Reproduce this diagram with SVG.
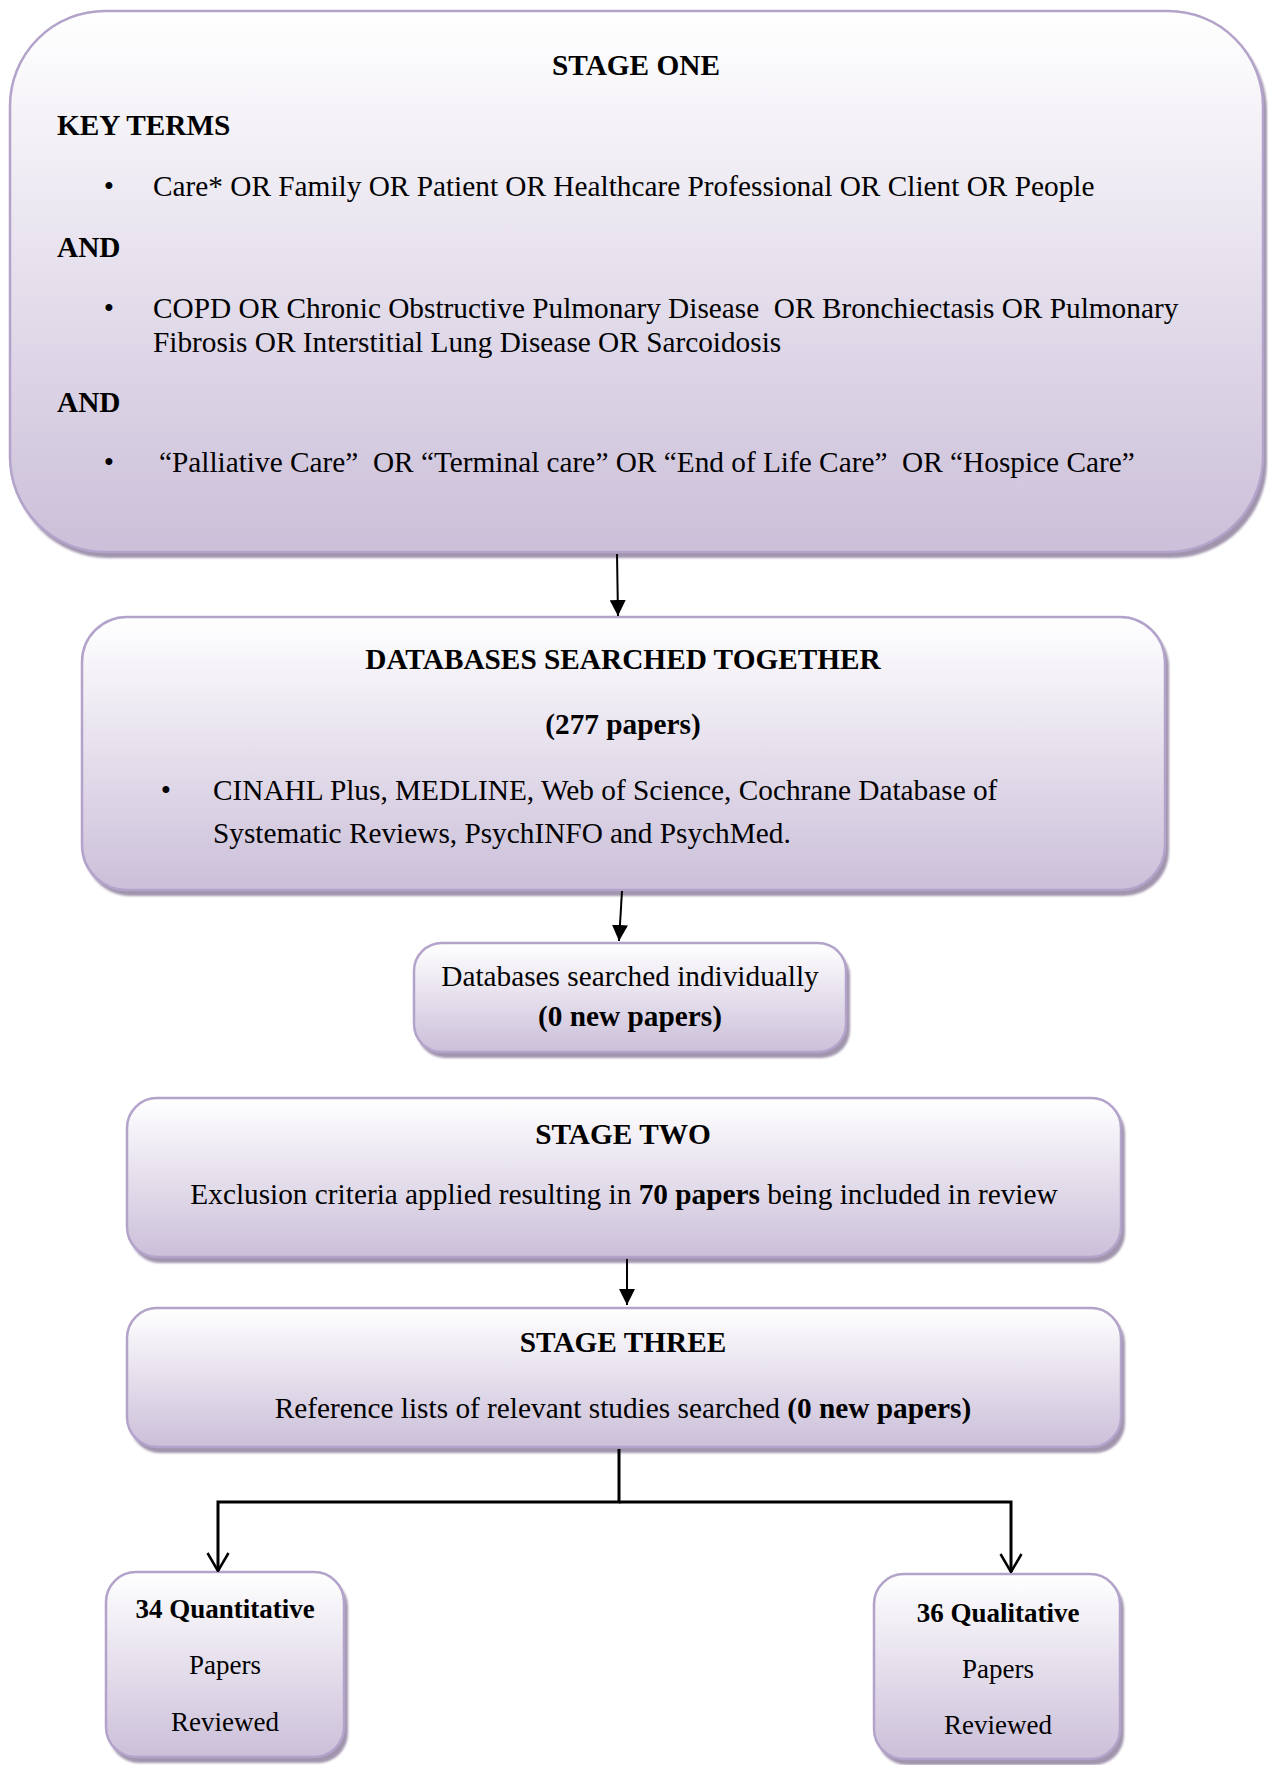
<svg xmlns="http://www.w3.org/2000/svg" width="1268" height="1765" viewBox="0 0 1268 1765">
<defs>
<linearGradient id="fillGrad" x1="0" y1="0" x2="0" y2="1">
<stop offset="0" stop-color="#ffffff"/>
<stop offset="1" stop-color="#cbbfd9"/>
</linearGradient>
<filter id="soft" x="-5%" y="-5%" width="110%" height="110%">
<feGaussianBlur stdDeviation="1.2"/>
</filter>
<marker id="solidHead" viewBox="0 0 16 16" markerWidth="16" markerHeight="16" refX="16" refY="8" orient="auto" markerUnits="userSpaceOnUse">
<path d="M0,0 L16,8 L0,16 Z" fill="#000"/>
</marker>
<marker id="openHead" viewBox="0 0 20 24" markerWidth="20" markerHeight="24" refX="19" refY="12" orient="auto" markerUnits="userSpaceOnUse">
<path d="M1,1.5 L19,12 L1,22.5" fill="none" stroke="#000" stroke-width="2.5"/>
</marker>
</defs>
<style>
.shadow{fill:#a195ae;filter:url(#soft);}
.box{fill:url(#fillGrad);stroke:#b3a3cb;stroke-width:2.5;}
.t{font-family:"Liberation Serif","Times New Roman",serif;font-size:29.3px;fill:#000;}
.ts{font-family:"Liberation Serif","Times New Roman",serif;font-size:27px;fill:#000;}
.b{font-weight:bold;}
.c{text-anchor:middle;}
.conn{stroke:#000;stroke-width:2;fill:none;}
.conn2{stroke:#000;stroke-width:3;fill:none;}
</style>
<rect width="1268" height="1765" fill="#ffffff"/>

<g id="stage-one">
<rect class="shadow" x="13" y="16" width="1254" height="542" rx="95" ry="95"/>
<rect class="box" x="10" y="11" width="1253" height="541" rx="95" ry="95"/>
<text class="t b c" x="636" y="75">STAGE ONE</text>
<text class="t b" x="57" y="135">KEY TERMS</text>
<text class="t c" x="109" y="196">•</text>
<text class="t" x="153" y="196">Care* OR Family OR Patient OR Healthcare Professional OR Client OR People</text>
<text class="t b" x="57" y="257">AND</text>
<text class="t c" x="109" y="318">•</text>
<text class="t" x="153" y="318" xml:space="preserve">COPD OR Chronic Obstructive Pulmonary Disease  OR Bronchiectasis OR Pulmonary</text>
<text class="t" x="153" y="352">Fibrosis OR Interstitial Lung Disease OR Sarcoidosis</text>
<text class="t b" x="57" y="412">AND</text>
<text class="t c" x="109" y="472">•</text>
<text class="t" x="159" y="472" xml:space="preserve">“Palliative Care”  OR “Terminal care” OR “End of Life Care”  OR “Hospice Care”</text>
</g>

<g id="databases-together">
<rect class="shadow" x="85" y="622" width="1084" height="274" rx="45" ry="45"/>
<rect class="box" x="82" y="617" width="1083" height="273" rx="45" ry="45"/>
<text class="t b c" x="623" y="669">DATABASES SEARCHED TOGETHER</text>
<text class="t b c" x="623" y="734">(277 papers)</text>
<text class="t c" x="166" y="800">•</text>
<text class="t" x="213" y="800">CINAHL Plus, MEDLINE, Web of Science, Cochrane Database of</text>
<text class="t" x="213" y="843">Systematic Reviews, PsychINFO and PsychMed.</text>
</g>

<g id="databases-individually">
<rect class="shadow" x="417" y="948" width="433" height="110" rx="28" ry="28"/>
<rect class="box" x="414" y="943" width="432" height="109" rx="28" ry="28"/>
<text class="t c" x="630" y="986">Databases searched individually</text>
<text class="t b c" x="630" y="1026">(0 new papers)</text>
</g>

<g id="stage-two">
<rect class="shadow" x="130" y="1103" width="995" height="160" rx="30" ry="30"/>
<rect class="box" x="127" y="1098" width="994" height="159" rx="30" ry="30"/>
<text class="t b c" x="623" y="1144">STAGE TWO</text>
<text class="t c" x="624" y="1204">Exclusion criteria applied resulting in <tspan class="b">70 papers</tspan> being included in review</text>
</g>

<g id="stage-three">
<rect class="shadow" x="130" y="1313" width="995" height="140" rx="30" ry="30"/>
<rect class="box" x="127" y="1308" width="994" height="139" rx="30" ry="30"/>
<text class="t b c" x="623" y="1352">STAGE THREE</text>
<text class="t c" x="623" y="1418">Reference lists of relevant studies searched <tspan class="b">(0 new papers)</tspan></text>
</g>

<g id="quantitative">
<rect class="shadow" x="109" y="1577" width="239" height="186" rx="30" ry="30"/>
<rect class="box" x="106" y="1572" width="238" height="185" rx="30" ry="30"/>
<text class="ts b c" x="225" y="1618">34 Quantitative</text>
<text class="ts c" x="225" y="1674">Papers</text>
<text class="ts c" x="225" y="1731">Reviewed</text>
</g>

<g id="qualitative">
<rect class="shadow" x="877" y="1579" width="247" height="186" rx="30" ry="30"/>
<rect class="box" x="874" y="1574" width="246" height="185" rx="30" ry="30"/>
<text class="ts b c" x="998" y="1622">36 Qualitative</text>
<text class="ts c" x="998" y="1678">Papers</text>
<text class="ts c" x="998" y="1734">Reviewed</text>
</g>

<g id="connectors">
<line class="conn" x1="617" y1="554" x2="618" y2="616" marker-end="url(#solidHead)"/>
<line class="conn" x1="622" y1="891" x2="619" y2="941" marker-end="url(#solidHead)"/>
<line class="conn" x1="627" y1="1259" x2="627" y2="1305" marker-end="url(#solidHead)"/>
<polyline class="conn2" points="619,1449 619,1502 218,1502 218,1571" marker-end="url(#openHead)"/>
<polyline class="conn2" points="619,1502 1011,1502 1011,1572" marker-end="url(#openHead)"/>
</g>
</svg>
